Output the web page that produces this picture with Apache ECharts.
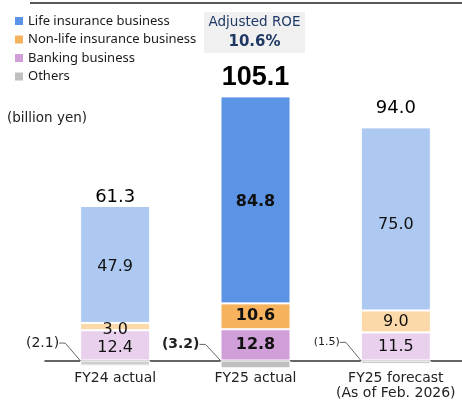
<!DOCTYPE html>
<html>
<head>
<meta charset="utf-8">
<script src="https://cdn.jsdelivr.net/npm/echarts@6/dist/echarts.min.js"></script>
<style>
  html, body { margin: 0; padding: 0; background: #fff; }
  #chart { width: 462px; height: 403px; }
</style>
</head>
<body>
<div id="chart"></div>
<script>
// chart values
const categories = ['FY24 actual', 'FY25 actual', 'FY25 forecast\n(As of Feb. 2026)'];
const life = [47.9, 84.8, 75.0];
const nonLife = [3.0, 10.6, 9.0];
const banking = [12.4, 12.8, 11.5];
const others = [-2.1, -3.2, -1.5];
const totals = [61.3, 105.1, 94.0];
const roe = '10.6%';

const font = 'DejaVu Sans';
const dark = { life: '#5b93e5', nonLife: '#f7b25e', banking: '#d09ed8', others: '#bfbfbf' };
const light = { life: '#adc8f1', nonLife: '#fbd9a9', banking: '#e9d1ee', others: '#cfcfcf' };
const hi = 1; // FY25 actual is highlighted

const chart = echarts.init(document.getElementById('chart'));

function segData(arr, key, offsets) {
  return arr.map((v, i) => ({
    value: v,
    itemStyle: { color: i === hi ? dark[key] : light[key] },
    label: { fontWeight: i === hi ? 'bold' : 'normal', offset: offsets ? offsets[i] : [0, 0] }
  }));
}

function barSeries(name, arr, key, extra, offsets) {
  return Object.assign({
    name: name,
    type: 'bar',
    stack: 'total',
    barWidth: 70,
    clip: false,
    itemStyle: { color: dark[key], borderColor: '#fff', borderWidth: 1 },
    label: {
      show: true, position: 'inside', fontFamily: font, fontSize: 16, color: '#111',
      formatter: p => p.value.toFixed(1)
    },
    silent: true,
    data: segData(arr, key, offsets)
  }, extra || {});
}

const topVals = categories.map((c, i) => banking[i] + nonLife[i] + life[i]);
const totalStyle = [
  { fontFamily: font, fontSize: 18, fontWeight: 'normal', distance: 0 },
  { fontFamily: 'Liberation Sans', fontSize: 27, fontWeight: 'bold', distance: 5 },
  { fontFamily: font, fontSize: 18, fontWeight: 'normal', distance: 10 }
];

const othersLabel = [
  { fontSize: 14, fontWeight: 'normal' },
  { fontSize: 14, fontWeight: 'bold' },
  { fontSize: 11, fontWeight: 'normal' }
];

chart.setOption({
  animation: false,
  textStyle: { fontFamily: font },
  legend: {
    data: ['Life insurance business', 'Non-life insurance business', 'Banking business', 'Others'],
    orient: 'vertical',
    left: 8,
    top: 9,
    itemWidth: 10,
    itemHeight: 10,
    itemGap: 4.5,
    icon: 'rect',
    selectedMode: false,
    textStyle: { fontFamily: 'Noto Sans', fontSize: 13, color: '#1a1a1a', lineHeight: 14, padding: [0, 0, 0, -1] }
  },
  grid: { left: 45, width: 421, top: 92, bottom: 42.5, outerBoundsMode: 'none', containLabel: false },
  xAxis: {
    type: 'category',
    data: categories,
    axisLine: { lineStyle: { color: '#333', width: 1.5 } },
    axisTick: { show: false },
    axisLabel: { interval: 0, fontFamily: font, fontSize: 14, color: '#222', margin: 10, lineHeight: 15 }
  },
  yAxis: {
    type: 'value', min: 0, max: 110, show: false, splitLine: { show: false }
  },
  series: [
    barSeries('Banking business', banking, 'banking', null, [[0, 2], [0, 0], [0, 0]]),
    barSeries('Non-life insurance business', nonLife, 'nonLife', null, [[0, 3], [0, 0], [0, 0]]),
    barSeries('Life insurance business', life, 'life', null, [[0, 2], [0, 2], [0, 6]]),
    barSeries('Others', others, 'others', {
      label: { show: true, position: 'left', fontFamily: font, color: '#222', formatter: p => '(' + Math.abs(p.value).toFixed(1) + ')' },
      labelLine: { show: true, lineStyle: { color: '#666', width: 1 }, length2: 6 },
      labelLayout: p => ({ dx: -16, dy: -20 }),
      data: others.map((v, i) => ({
        value: v,
        itemStyle: { color: i === hi ? dark.others : light.others },
        label: { fontSize: othersLabel[i].fontSize, fontWeight: othersLabel[i].fontWeight }
      }))
    }),
    {
      type: 'scatter',
      symbolSize: 0,
      silent: true,
      itemStyle: { opacity: 1 },
      data: topVals.map((v, i) => ({
        value: v,
        label: {
          show: true, position: 'top', color: '#000', opacity: 1,
          fontFamily: totalStyle[i].fontFamily,
          fontSize: totalStyle[i].fontSize, fontWeight: totalStyle[i].fontWeight,
          distance: totalStyle[i].distance,
          formatter: () => totals[i].toFixed(1)
        }
      }))
    }
  ],
  graphic: [
    { type: 'line', shape: { x1: 30, y1: 3, x2: 462, y2: 3 }, style: { stroke: '#222', lineWidth: 1.5 } },
    { type: 'rect', shape: { x: 204, y: 12, width: 101, height: 41 }, style: { fill: '#f0f0f0' } },
    { type: 'text', style: { text: 'Adjusted ROE', x: 254.5, y: 22, align: 'center', verticalAlign: 'middle', fontFamily: font, fontSize: 13.5, fill: '#1f3864' } },
    { type: 'text', style: { text: roe, x: 254.5, y: 42, align: 'center', verticalAlign: 'middle', fontFamily: font, fontSize: 15, fontWeight: 'bold', fill: '#1f3864' } },
    { type: 'text', style: { text: '(billion yen)', x: 7, y: 118, verticalAlign: 'middle', fontFamily: font, fontSize: 13.5, fill: '#222' } }
  ]
});
</script>
</body>
</html>
